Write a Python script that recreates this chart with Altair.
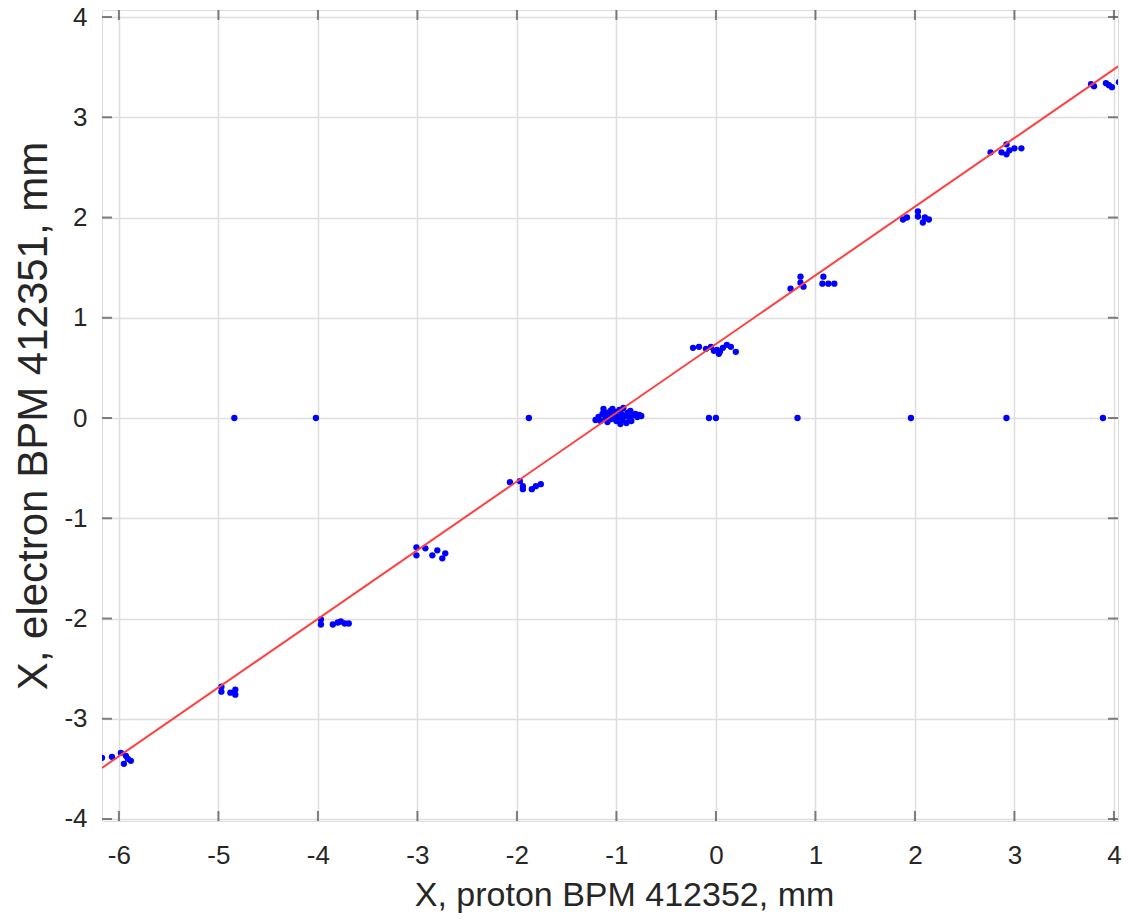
import altair as alt
import pandas as pd

# proton BPM X (mm) and electron BPM X (mm) readings
px = [
    -6.17, -6.07, -5.98, -5.95, -5.93, -5.91, -5.88,
    -4.97, -4.97, -4.88, -4.83, -4.83,
    -3.97, -3.97, -3.85, -3.80, -3.77, -3.73, -3.69,
    -3.01, -3.01, -2.92, -2.85, -2.80, -2.75, -2.72,
    -2.07, -1.97, -1.94, -1.94, -1.85, -1.81, -1.76,
    -1.21, -1.18, -1.16, -1.14, -1.13, -1.11, -1.09, -1.08, -1.06, -1.05, -1.03,
    -1.01, -1.00, -0.98, -0.97, -0.95, -0.94, -0.93, -0.91, -0.90, -0.89, -0.87,
    -0.86, -0.85, -0.83, -0.81, -0.79, -0.77, -0.75, -1.10, -0.96, -1.04,
    -0.23, -0.17, -0.10, -0.05, -0.02, 0.01, 0.04, 0.07, 0.11, 0.15, 0.20, 0.03,
    0.75, 0.85, 0.85, 0.88, 1.08, 1.07, 1.13, 1.19,
    1.88, 1.92, 2.03, 2.03, 2.08, 2.10, 2.14,
    2.76, 2.87, 2.92, 2.92, 2.95, 3.00, 3.07,
    3.77, 3.80, 3.92, 3.95, 3.98, 4.05,
    -4.84, -4.02, -1.88, -0.07, 0.00, 0.82, 1.96, 2.92, 3.89,
]
py = [
    -3.39, -3.38, -3.34, -3.45, -3.37, -3.40, -3.42,
    -2.68, -2.73, -2.74, -2.76, -2.71,
    -2.01, -2.06, -2.06, -2.04, -2.03, -2.05, -2.05,
    -1.29, -1.37, -1.30, -1.37, -1.32, -1.40, -1.35,
    -0.64, -0.63, -0.71, -0.68, -0.71, -0.68, -0.66,
    -0.02, 0.01, -0.03, 0.04, 0.09, 0.00, -0.04, 0.03, 0.07, -0.01, 0.02,
    0.06, -0.03, 0.01, 0.08, 0.04, -0.02, 0.10, 0.02, -0.05, 0.05, 0.00,
    0.07, -0.03, 0.03, 0.04, 0.01, 0.03, 0.02, 0.05, -0.06, 0.09,
    0.70, 0.71, 0.69, 0.71, 0.67, 0.68, 0.66, 0.70, 0.73, 0.71, 0.66, 0.64,
    1.29, 1.41, 1.35, 1.31, 1.41, 1.34, 1.34, 1.34,
    1.98, 2.00, 2.06, 2.01, 1.95, 2.00, 1.98,
    2.65, 2.65, 2.73, 2.63, 2.67, 2.69, 2.69,
    3.33, 3.31, 3.34, 3.32, 3.30, 3.35,
    0.0, 0.0, 0.0, 0.0, 0.0, 0.0, 0.0, 0.0, 0.0,
]

# linear fit line end points
fit_x = [-6.17, 4.09]
fit_y = [-3.49, 3.54]

x_ticks = [-6, -5, -4, -3, -2, -1, 0, 1, 2, 3, 4]
y_ticks = [-4, -3, -2, -1, 0, 1, 2, 3, 4]

x_domain = [-6.17, 4.041]
y_domain = [-4.02, 4.07]

W, H = 1016, 811
FONT = "Liberation Sans"
TXT = "#262626"

pts = pd.DataFrame({"x": px, "y": py})
fit = pd.DataFrame({"x": fit_x, "y": fit_y})
xt = pd.DataFrame({"x": x_ticks})
yt = pd.DataFrame({"y": y_ticks})

xs = alt.Scale(domain=x_domain, nice=False, zero=False)
ys = alt.Scale(domain=y_domain, nice=False, zero=False)

x_axis = alt.Axis(
    values=x_ticks, labelExpr="'' + datum.value", title="X, proton BPM 412352, mm",
    grid=True, gridColor="#dedede", gridWidth=1.5, ticks=False, domain=False,
    labelFont=FONT, labelFontSize=26, labelColor=TXT, labelPadding=21,
    titleFont=FONT, titleFontSize=34, titleFontWeight="normal", titleColor=TXT,
    titleBaseline="alphabetic", titleY=84, titleX=522, labelFlush=False,
)
y_axis = alt.Axis(
    values=y_ticks, labelExpr="'' + datum.value", title="X, electron BPM 412351, mm",
    grid=True, gridColor="#dedede", gridWidth=1.5, ticks=False, domain=False,
    labelFont=FONT, labelFontSize=26, labelColor=TXT, labelPadding=15,
    titleFont=FONT, titleFontSize=42, titleFontWeight="normal", titleColor=TXT,
    titlePadding=8, labelFlush=False,
)

points = alt.Chart(pts).mark_circle(size=40, color="#0000ff", opacity=1, clip=True).encode(
    x=alt.X("x:Q", scale=xs, axis=x_axis),
    y=alt.Y("y:Q", scale=ys, axis=y_axis),
)

line = alt.Chart(fit).mark_line(color="#ff4040", strokeWidth=2, clip=True).encode(
    x=alt.X("x:Q", scale=xs),
    y=alt.Y("y:Q", scale=ys),
)

tick_color = "#4d4d4d"
bottom_t = alt.Chart(xt).mark_tick(orient="vertical", size=20, thickness=2, color=tick_color, clip=True).encode(
    x=alt.X("x:Q", scale=xs), y=alt.value(H))
top_t = alt.Chart(xt).mark_tick(orient="vertical", size=20, thickness=2, color=tick_color, clip=True).encode(
    x=alt.X("x:Q", scale=xs), y=alt.value(0))
left_t = alt.Chart(yt).mark_tick(orient="horizontal", size=20, thickness=2, color=tick_color, clip=True).encode(
    y=alt.Y("y:Q", scale=ys), x=alt.value(0))
right_t = alt.Chart(yt).mark_tick(orient="horizontal", size=20, thickness=2, color=tick_color, clip=True).encode(
    y=alt.Y("y:Q", scale=ys), x=alt.value(W))

chart = alt.layer(points, line, bottom_t, top_t, left_t, right_t).properties(
    width=W, height=H,
    autosize=alt.AutoSizeParams(type="none"),
    padding={"left": 94, "top": 2, "right": 4, "bottom": 92},
).configure_view(
    stroke="#4d4d4d", strokeWidth=2
).configure(background="white")

chart.save("out.html", embed_options={"renderer": "svg", "actions": False})
